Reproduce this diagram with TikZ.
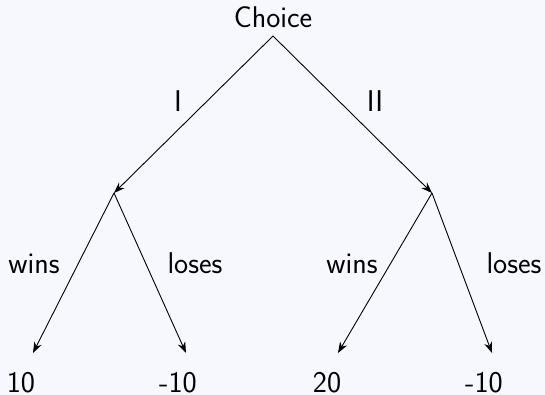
\documentclass[tikz,border=0pt]{standalone}
\usetikzlibrary{arrows.meta}
\definecolor{bgcol}{HTML}{F7F8FE}
\begin{document}
\begin{tikzpicture}[x=1pt,y=-1pt,
  lbl/.style={font=\sffamily\fontsize{30}{36}\selectfont, inner sep=0pt, anchor=base},
  edge/.style={line width=0.9pt, -{Stealth[length=11pt,width=8pt]}}]
\fill[bgcol] (0,0) rectangle (545,395);
\useasboundingbox (0,0) rectangle (545,395);
\node[lbl] (choice) at (273,28) {Choice};
\coordinate (top) at (273,36);
\coordinate (l) at (114,193);
\coordinate (r) at (432,193);
\coordinate (ll) at (33,353);
\coordinate (lr) at (186,353);
\coordinate (rl) at (338,353);
\coordinate (rr) at (492,353);
\draw[edge] (top) -- (l);
\draw[edge] (top) -- (r);
\draw[edge] (l) -- (ll);
\draw[edge] (l) -- (lr);
\draw[edge] (r) -- (rl);
\draw[edge] (r) -- (rr);
\node[lbl] (bI) at (178,112) {I};
\node[lbl] (bII) at (375,112) {II};
\node[lbl] (w1) at (34,273) {wins};
\node[lbl] (s1) at (195,273) {loses};
\node[lbl] (w2) at (352,273) {wins};
\node[lbl] (s2) at (514,273) {loses};
\node[lbl] (v1) at (21,392) {10};
\node[lbl] (v2) at (178,392) {-10};
\node[lbl] (v3) at (327,392) {20};
\node[lbl] (v4) at (484,392) {-10};
\end{tikzpicture}
\end{document}
